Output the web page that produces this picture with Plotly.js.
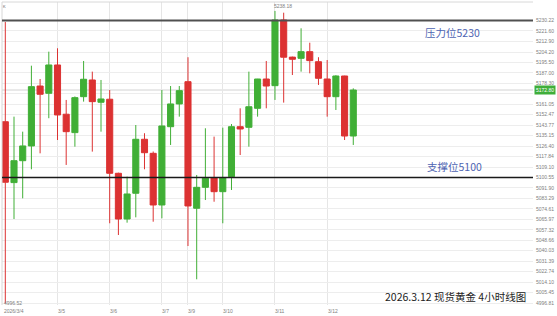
<!DOCTYPE html>
<html><head><meta charset="utf-8">
<script src="https://cdn.plot.ly/plotly-3.0.1.min.js"></script>
<style>html,body{margin:0;padding:0;background:#fff;}#chart{width:557px;height:316px;}</style>
</head><body><div id="chart"></div>
<script>
// 4-hour candles, 2026/3/4 – 2026/3/12
const openP  = [5146.6,5096.3,5114.4,5126.6,5176.1,5170.1,5193.5,5152.8,5137.6,5167.3,5181.1,5162.7,5165.2,5104.0,5066.2,5087.5,5132.1,5120.5,5077.8,5142.5,5161.3,5179.7,5075.1,5092.4,5100.4,5088.8,5101.2,5142.5,5142.0,5157.7,5181.9,5176.4,5230.7,5200.0,5199.0,5204.5,5196.2,5181.9,5167.3,5184.4,5134.8];
const highP  = [5229.0,5150.8,5138.4,5192.9,5181.9,5204.5,5207.3,5164.6,5167.5,5196.8,5188.0,5181.1,5172.8,5104.5,5101.2,5143.9,5137.1,5122.0,5172.8,5176.1,5176.1,5199.9,5102.6,5141.2,5134.3,5141.7,5144.7,5157.7,5188.0,5182.0,5196.8,5238.18,5236.7,5200.4,5223.8,5211.9,5199.9,5197.6,5185.0,5184.6,5174.2];
const lowP   = [4996.52,5066.2,5083.3,5107.3,5120.5,5149.5,5131.5,5110.9,5126.0,5163.2,5121.9,5138.4,5062.7,5053.0,5063.2,5067.6,5107.3,5064.0,5066.8,5127.4,5150.8,5043.9,5016.4,5081.9,5080.5,5062.7,5090.2,5119.1,5126.0,5150.8,5157.7,5164.6,5162.4,5185.2,5188.0,5186.6,5177.0,5150.8,5156.3,5131.5,5127.4];
const closeP = [5096.6,5114.4,5126.6,5175.6,5169.3,5193.5,5152.2,5138.4,5166.5,5181.7,5163.2,5165.4,5104.0,5066.2,5086.9,5132.1,5121.0,5077.8,5143.1,5161.3,5172.3,5077.0,5092.4,5099.9,5088.8,5100.4,5142.5,5140.6,5159.0,5181.9,5176.1,5230.7,5199.9,5198.2,5204.5,5197.1,5182.5,5167.3,5184.4,5134.8,5172.8];

// first candle index of each trading day and its label
const dayIdx    = [0, 6, 12, 18, 21, 25, 31, 37];
const dayLabels = ['2026/3/4','3/5','3/6','3/7','3/9','3/10','3/11','3/12'];

// price scale ticks
const yTicks = [4996.81,5005.45,5014.10,5022.74,5031.39,5040.03,5048.66,5057.32,5065.97,5074.61,5083.29,5091.90,5100.55,5109.10,5117.84,5126.40,5135.15,5143.77,5152.47,5161.05,5169.71,5178.30,5187.00,5195.50,5204.20,5212.90,5221.60,5230.22];

const resistance = 5230.22;
const support = 5100.55;
const highMarkIdx = 31;
const texts = {res: '压力位5230', sup: '支撑位5100', title: '2026.3.12 现货黄金 4小时线图'};

const RED = '#dc3232', GREEN = '#40af36';
const xIdx = openP.map((_, i) => i);
const lastClose = closeP[closeP.length - 1];

const trace = {
  type: 'candlestick', x: xIdx, open: openP, high: highP, low: lowP, close: closeP,
  increasing: {line: {color: GREEN, width: 1}, fillcolor: GREEN},
  decreasing: {line: {color: RED, width: 1}, fillcolor: RED},
  whiskerwidth: 0, hoverinfo: 'skip', showlegend: false
};

const small = {family: 'Liberation Sans, Arial, sans-serif', size: 5, color: '#808080'};
const annotations = [];
dayIdx.forEach((d, k) => annotations.push({
  x: d, y: 0, xref: 'x', yref: 'paper', yanchor: 'top', xanchor: 'left',
  xshift: k === 0 ? -3.3 : -1.5, yshift: -1, text: dayLabels[k], showarrow: false, font: small
}));
annotations.push({x: 0, y: lowP[0], xref: 'x', yref: 'y', xanchor: 'left', yanchor: 'middle', xshift: -3.3,
  text: lowP[0].toFixed(2), showarrow: false, font: small});
annotations.push({x: highMarkIdx, y: highP[highMarkIdx], xref: 'x', yref: 'y', xanchor: 'left', yanchor: 'bottom', xshift: -2.5,
  text: highP[highMarkIdx].toFixed(2), showarrow: false, font: small});
annotations.push({x: 1, y: lastClose, xref: 'paper', yref: 'y', xanchor: 'left', yanchor: 'middle', xshift: 1,
  text: lastClose.toFixed(2), showarrow: false, bgcolor: '#3fae3a', borderpad: 1,
  font: {family: 'Liberation Sans, Arial, sans-serif', size: 5, color: '#ffffff'}});
annotations.push({x: 51.4, y: resistance, xref: 'x', yref: 'y', xanchor: 'center', yanchor: 'top', yshift: -2,
  text: texts.res, showarrow: false, font: {family: 'Noto Sans CJK SC', size: 10.5, color: '#4e64b2'}});
annotations.push({x: 51.6, y: support, xref: 'x', yref: 'y', xanchor: 'center', yanchor: 'bottom', yshift: 1,
  text: texts.sup, showarrow: false, font: {family: 'Noto Sans CJK SC', size: 10.5, color: '#4e64b2'}});
annotations.push({x: 0.99, y: 0.028, xref: 'paper', yref: 'paper', xanchor: 'right', yanchor: 'middle',
  text: texts.title, showarrow: false, font: {family: 'Noto Sans CJK SC', size: 10.5, color: '#222222'}});
annotations.push({x: 0, y: 1, xref: 'paper', yref: 'paper', xanchor: 'left', yanchor: 'top', xshift: -1,
  text: 'K', showarrow: false, font: {family: 'Liberation Sans, Arial, sans-serif', size: 4, color: '#666'}});

const layout = {
  width: 557, height: 316,
  margin: {l: 2, r: 24, t: 2, b: 11, pad: 0},
  paper_bgcolor: '#ffffff', plot_bgcolor: '#ffffff',
  showlegend: false,
  boxgap: 0.3, boxgroupgap: 0,
  xaxis: {
    range: [-0.38, 60.66], tickvals: dayIdx.slice(1), showticklabels: false, ticks: '',
    showgrid: true, gridcolor: '#e6e6e6', gridwidth: 1, zeroline: false,
    rangeslider: {visible: false}, fixedrange: true
  },
  yaxis: {
    side: 'right', range: [4995.16, 5245.54], tickvals: yTicks,
    ticktext: yTicks.map(v => Math.abs(v - lastClose) < 5 ? '' : v.toFixed(2)),
    ticks: '', ticklabelstandoff: 2, tickfont: small, showgrid: true, gridcolor: '#ededed', gridwidth: 1,
    zeroline: false, fixedrange: true
  },
  shapes: [
    {type: 'line', xref: 'paper', yref: 'y', x0: 0, x1: 1, y0: lastClose, y1: lastClose, layer: 'below',
     line: {color: '#d2d2d2', width: 1}},
    {type: 'line', xref: 'paper', yref: 'paper', x0: 0, x1: 1, y0: 1, y1: 1, line: {color: '#d8d8d8', width: 1}},
    {type: 'line', xref: 'paper', yref: 'paper', x0: 0, x1: 0, y0: 0, y1: 1, line: {color: '#d8d8d8', width: 1}},
    {type: 'line', xref: 'paper', yref: 'y', x0: 0, x1: 1, y0: resistance, y1: resistance, line: {color: '#505050', width: 2}},
    {type: 'line', xref: 'paper', yref: 'y', x0: 0, x1: 1, y0: support, y1: support, line: {color: '#1a1a1a', width: 1.5}}
  ],
  annotations: annotations
};

Plotly.newPlot('chart', [trace], layout, {displayModeBar: false, staticPlot: true});
</script>
</body></html>
